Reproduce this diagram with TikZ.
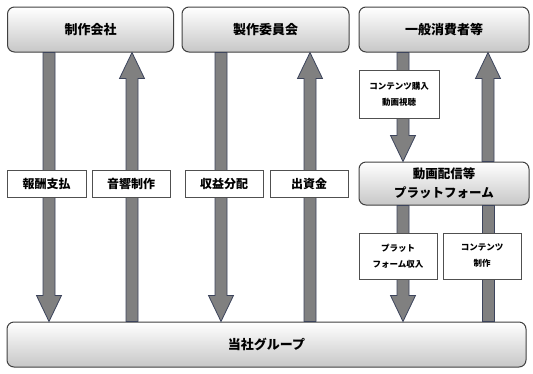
\documentclass[tikz,border=0pt]{standalone}
\usepackage{fontspec}
\newfontfamily\jpfont{Noto Sans CJK JP}
\usetikzlibrary{calc}
\definecolor{boxline}{RGB}{64,64,64}
\definecolor{arrowgray}{RGB}{128,128,128}
\definecolor{arrowline}{RGB}{60,68,92}
\definecolor{lblline}{RGB}{80,80,80}

\tikzset{
  party/.style={draw=boxline, line width=1pt, rounded corners=7pt, top color=white, bottom color=black!22,
    font=\jpfont\bfseries\fontsize{13}{15}\selectfont, inner sep=0pt, minimum height=45pt},
  flowlbl/.style={draw=lblline, line width=.6pt, fill=white, inner sep=0pt, minimum height=27pt, minimum width=78pt,
    font=\jpfont\bfseries\fontsize{12}{14}\selectfont},
  smalllbl/.style={flowlbl, align=center, minimum height=47pt, font=\jpfont\bfseries\fontsize{8.5}{16}\selectfont},
  bigarrow/.style={fill=arrowgray, draw=arrowline, line width=.8pt, line join=miter},
  % fat arrow: shaft 12pt, head 25pt wide and 26pt long, tip at the target
  fatarrow/.style={to path={
    (\tikztostart) coordinate (fs) (\tikztotarget) coordinate (ft)
    ($(ft)!26pt!(fs)$) coordinate (fb)
    ($(fs)!6pt!90:(ft)$) -- ($(fb)!6pt!-90:(fs)$) -- ($(fb)!12.5pt!-90:(fs)$) -- (ft)
    -- ($(fb)!12.5pt!90:(fs)$) -- ($(fb)!6pt!90:(fs)$) -- ($(fs)!6pt!-90:(ft)$) -- cycle}},
  % fat bar without head
  fatbar/.style={to path={
    ($(\tikztostart)!6pt!90:(\tikztotarget)$) -- ($(\tikztotarget)!6pt!-90:(\tikztostart)$)
    -- ($(\tikztotarget)!6pt!90:(\tikztostart)$) -- ($(\tikztostart)!6pt!-90:(\tikztotarget)$) -- cycle}}
}

\begin{document}
\begin{tikzpicture}[x=1pt,y=-1pt]
  \useasboundingbox (0,0) rectangle (533,373);

  % parties
  \node[party, minimum width=166pt] (seisaku) at (90.5,29.5) {制作会社};
  \node[party, minimum width=167pt] (iinkai) at (265.5,29.5) {製作委員会};
  \node[party, minimum width=170pt] (ippan) at (444,29.5) {一般消費者等};
  \node[party, minimum width=170pt, minimum height=43pt, align=center,
        font=\jpfont\bfseries\fontsize{12.5}{19}\selectfont] (haishin) at (444,183.5) {動画配信等\\プラットフォーム};
  \node[party, minimum width=519pt] (tosha) at (266.5,344.5) {当社グループ};

  % arrow columns
  \coordinate (ax1) at (49,0);
  \coordinate (ax2) at (132,0);
  \coordinate (ax3) at (221,0);
  \coordinate (ax4) at (310,0);
  \coordinate (ax5) at (403,0);
  \coordinate (ax6) at (488,0);

  \draw[bigarrow] (seisaku.south -| ax1) to[fatarrow] (tosha.north -| ax1);
  \draw[bigarrow] (tosha.north -| ax2) to[fatarrow] (seisaku.south -| ax2);
  \draw[bigarrow] (iinkai.south -| ax3) to[fatarrow] (tosha.north -| ax3);
  \draw[bigarrow] (tosha.north -| ax4) to[fatarrow] (iinkai.south -| ax4);
  \draw[bigarrow] (ippan.south -| ax5) to[fatarrow] (haishin.north -| ax5);
  \draw[bigarrow] (haishin.north -| ax6) to[fatarrow] (ippan.south -| ax6);
  \draw[bigarrow] (haishin.south -| ax5) to[fatarrow] (tosha.north -| ax5);
  \draw[bigarrow] (haishin.south -| ax6) to[fatbar] (tosha.north -| ax6);

  % flow labels
  \node[flowlbl, minimum width=79pt] (hoshu) at (46.5,183.5) {報酬支払};
  \node[flowlbl] (onkyo) at (131,183.5) {音響制作};
  \node[flowlbl] (shueki) at (224,183.5) {収益分配};
  \node[flowlbl] (shusshi) at (309,183.5) {出資金};
  \node[smalllbl, minimum width=80pt, minimum height=48pt] (kounyu) at (399,94) {コンテンツ購入\\動画視聴};
  \node[smalllbl, minimum height=46pt] (pfshunyu) at (398,256) {プラット\\フォーム収入};
  \node[smalllbl, minimum height=46pt] (kseisaku) at (482,256) {コンテンツ\\制作};
\end{tikzpicture}
\end{document}
